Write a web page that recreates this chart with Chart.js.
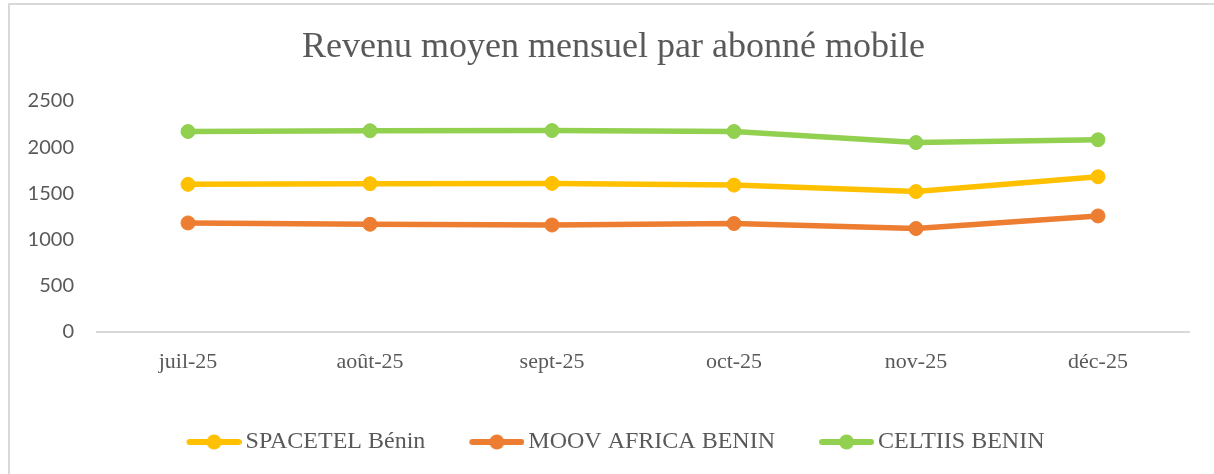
<!DOCTYPE html>
<html>
<head>
<meta charset="utf-8">
<script src="https://cdn.jsdelivr.net/npm/chart.js@4"></script>
<style>
  html, body { margin: 0; padding: 0; background: #fff; overflow: hidden; }
  #frame { position: absolute; left: 8px; top: 3px; width: 1300px; height: 600px; border: 2px solid #d9d9d9; }
  #chart { position: absolute; left: 0; top: 0; }
</style>
</head>
<body>
<div id="frame"></div>
<canvas id="chart" width="1214" height="474"></canvas>
<script>
// Months on the x axis
const months = ['juil-25', 'août-25', 'sept-25', 'oct-25', 'nov-25', 'déc-25'];

// ARPU values per operator
const spacetel = [1598, 1605, 1608, 1590, 1520, 1680];
const moov = [1180, 1166, 1158, 1174, 1120, 1256];
const celtiis = [2170, 2178, 2180, 2170, 2050, 2080];

const seriesNames = ['SPACETEL Bénin', 'MOOV AFRICA BENIN', 'CELTIIS BENIN'];
const seriesColors = ['#FFC000', '#ED7D31', '#92D050'];

const textGrey = '#595959';

// Legend icon: a short thick line with a dot in the middle, like the Excel legend
function legendIcon(color) {
    const c = document.createElement('canvas');
    c.width = 97;
    c.height = 18;
    const ctx = c.getContext('2d');
    ctx.strokeStyle = color;
    ctx.lineWidth = 6;
    ctx.lineCap = 'round';
    ctx.beginPath();
    ctx.moveTo(45, 9);
    ctx.lineTo(94, 9);
    ctx.stroke();
    ctx.fillStyle = color;
    ctx.beginPath();
    ctx.arc(69.5, 9, 7.5, 0, Math.PI * 2);
    ctx.fill();
    return c;
}

// The Excel frame is wider than the picture, so title and legend sit a bit right of centre
const shiftBlocks = {
    id: 'shiftBlocks',
    afterLayout(chart) {
        chart.titleBlock.left += 19;
        chart.titleBlock.right += 19;
        chart.legend.left += 4;
        chart.legend.right += 4;
    }
};

const dataSets = [spacetel, moov, celtiis].map((values, i) => ({
    label: seriesNames[i],
    data: values,
    borderColor: seriesColors[i],
    backgroundColor: seriesColors[i],
    borderWidth: 5.5,
    pointRadius: 7,
    pointBorderWidth: 1,
    pointStyle: 'circle',
    tension: 0
}));

new Chart(document.getElementById('chart').getContext('2d'), {
    type: 'line',
    data: { labels: months, datasets: dataSets },
    plugins: [shiftBlocks],
    options: {
        responsive: false,
        animation: false,
        layout: { padding: { left: 0, right: 25, top: 0, bottom: 10 } },
        scales: {
            x: {
                offset: true,
                grid: { display: false, drawTicks: false },
                border: { display: true, color: '#d9d9d9', width: 2 },
                ticks: {
                    color: textGrey,
                    padding: 17,
                    maxRotation: 0,
                    font: { family: '"Liberation Serif", serif', size: 22 }
                },
                afterFit: scale => { scale.height = 88; }
            },
            y: {
                min: 0,
                max: 2500,
                grid: { display: false, drawTicks: false },
                border: { display: false },
                ticks: {
                    stepSize: 500,
                    color: textGrey,
                    padding: 23,
                    font: { family: 'Lato, sans-serif', size: 20 },
                    callback: value => String(value)
                },
                afterFit: scale => { scale.width = 97; }
            }
        },
        plugins: {
            title: {
                display: true,
                text: 'Revenu moyen mensuel par abonné mobile',
                color: textGrey,
                font: { family: '"Liberation Serif", serif', size: 36, weight: 'normal' },
                padding: { top: 26.4, bottom: 31.4 }
            },
            legend: {
                position: 'bottom',
                labels: {
                    color: textGrey,
                    font: { family: '"Liberation Serif", serif', size: 24 },
                    usePointStyle: true,
                    pointStyleWidth: 81,
                    padding: 10,
                    generateLabels: chart => chart.data.datasets.map((ds, i) => ({
                        text: ds.label,
                        fontColor: textGrey,
                        pointStyle: legendIcon(seriesColors[i]),
                        datasetIndex: i,
                        lineWidth: 0
                    }))
                }
            },
            tooltip: { enabled: false }
        }
    }
});
</script>
</body>
</html>
